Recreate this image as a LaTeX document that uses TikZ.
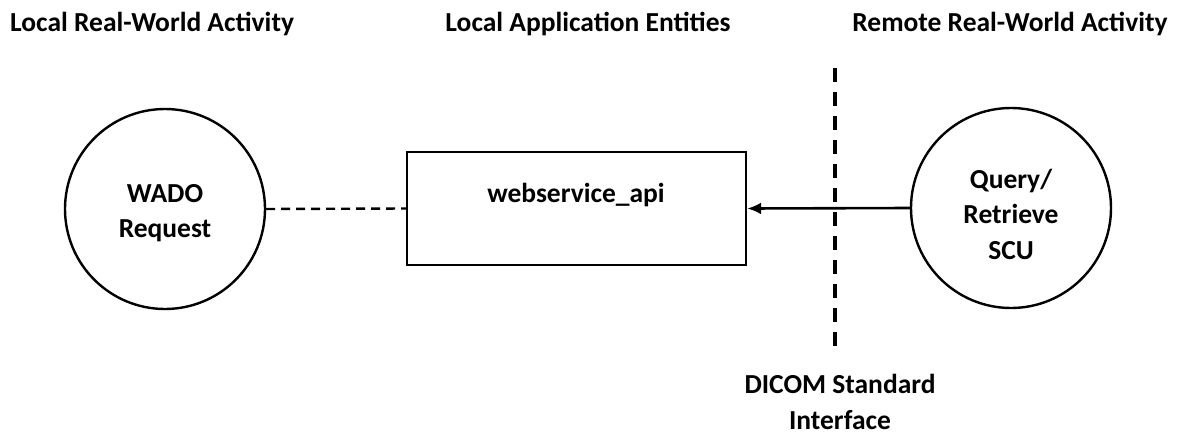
\documentclass[tikz,border=0pt]{standalone}
\usepackage{fontspec}
\setmainfont{Carlito}
\usetikzlibrary{arrows.meta}
\begin{document}
\begin{tikzpicture}[x=1pt,y=-1pt,
  every node/.style={font=\bfseries\fontsize{27.5}{35.5}\selectfont, inner sep=0pt},
  title/.style={anchor=base},
  actor/.style={circle, draw, line width=2.4pt, minimum size=200pt},
  entity/.style={draw, line width=2.4pt, minimum width=339pt, minimum height=113pt},
  link/.style={line width=2.4pt, dash pattern=on 9pt off 6pt},
  flow/.style={line width=2.6pt, -{Latex[length=14pt,width=12pt]}},
  boundary/.style={line width=3.6pt, dash pattern=on 14pt off 10pt}]
\useasboundingbox (0,0) rectangle (1186,434);
\node[title, anchor=base west] (t1) at (10,31) {Local Real-World Activity};
\node[title] (t2) at (588,31) {Local Application Entities};
\node[title] (t3) at (1010,31) {Remote Real-World Activity};
\node[actor] (wado) at (165,209) {};
\node[align=center] (wadotext) at (165,213) {WADO\\Request};
\node[entity] (api) at (576.5,208.5) {};
\node (apitext) at (576,195) {webservice\_api};
\node[actor] (qr) at (1011,208) {};
\node[align=center] (qrtext) at (1011,214) {Query/\\Retrieve\\SCU};
\coordinate (btop) at (835,68);
\coordinate (bbot) at (835,352);
\draw[boundary] (btop) -- (bbot);
\draw[link] (wado.east) -- (api.west);
\draw[flow] (qr.west) -- (api.east);
\node[align=center] (dicom) at (840,402) {DICOM Standard\\Interface};
\end{tikzpicture}
\end{document}
